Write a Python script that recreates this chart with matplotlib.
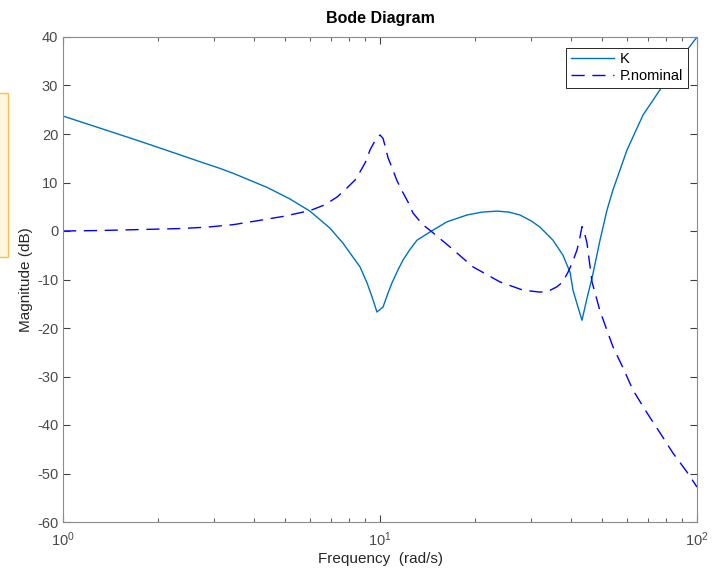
import matplotlib
matplotlib.use("Agg")
import matplotlib.pyplot as plt
from matplotlib.patches import Rectangle

plt.rcParams["font.family"] = ["Liberation Sans", "DejaVu Sans"]
plt.rcParams["axes.unicode_minus"] = False

# controller K magnitude (dB) vs frequency (rad/s)
k_freq = [1.0, 1.31, 1.75, 2.34, 2.70, 3.13, 3.44, 4.40, 5.20, 6.01, 6.95,
          7.64, 8.22, 8.65, 9.10, 9.44, 9.78, 10.22, 10.60, 10.91, 11.40,
          11.82, 12.40, 13.08, 14.38, 16.27, 18.81, 20.98, 23.39, 25.5,
          27.65, 29.96, 31.97, 35.13, 37.78, 39.76, 40.63, 42.13, 43.37,
          45.0, 46.65, 49.43, 52.0, 54.33, 60.14, 67.55, 76.41, 84.0, 93.0,
          100.0]
k_mag = [23.7, 21.2, 18.5, 15.7, 14.3, 12.9, 11.9, 9.0, 6.6, 4.1, 0.6,
         -2.5, -5.4, -7.4, -10.7, -13.6, -16.7, -15.7, -12.8, -10.7, -8.0,
         -6.0, -3.9, -1.9, -0.2, 1.9, 3.3, 3.9, 4.1, 3.9,
         3.3, 2.1, 0.8, -1.9, -5.0, -8.5, -12.2, -15.7, -18.4,
         -13.8, -9.7, -1.9, 4.3, 8.5, 16.7, 23.9, 29.1, 33.2, 37.3,
         40.0]

# nominal plant magnitude (dB)
p_freq = [1.0, 1.31, 1.75, 2.34, 2.85, 3.44, 4.09, 4.94, 6.01, 6.70, 7.32,
          7.76, 8.34, 8.65, 9.0, 9.30, 9.55, 9.76, 10.0, 10.22, 10.40,
          10.60, 10.95, 11.29, 11.75, 12.25, 12.71, 13.6, 14.59, 16.63,
          19.65, 23.90, 28.25, 31.97, 34.0, 36.17, 37.7, 39.18, 40.5, 41.83,
          42.7, 43.37, 44.0, 44.98, 46.65, 49.43, 54.33, 58.43, 62.8, 69.55,
          76.41, 84.0, 93.0, 100.0]
p_mag = [0.0, 0.1, 0.3, 0.5, 0.8, 1.3, 2.1, 3.0, 4.2, 5.4, 7.0,
         8.5, 10.5, 12.2, 14.2, 16.7, 18.1, 19.1, 19.8, 19.1, 17.3,
         15.1, 12.8, 10.5, 8.2, 6.0, 3.7, 1.4, -0.2, -3.3,
         -7.4, -10.5, -12.2, -12.6, -12.4, -11.5, -10.5, -8.5, -6.4, -3.9,
         -1.4, 0.9, 0.0, -2.5, -10.5, -16.5, -23.9, -28.2, -32.8, -37.5,
         -41.6, -45.8, -49.7, -52.8]

yticks = list(range(-60, 41, 10))

fig = plt.figure(figsize=(7.24, 5.73), dpi=100)
ax = fig.add_axes([63 / 724, 1 - 522 / 573, 634 / 724, 485 / 573])

ax.semilogx(k_freq, k_mag, color="#0072BD", lw=1.0, label="K")
ax.semilogx(p_freq, p_mag, color="#0000FF", lw=1.0, dashes=(9.5, 5.5),
            label="P.nominal")

ax.set_xlim(1, 100)
ax.set_ylim(-60, 40)
ax.set_yticks(yticks)

txt = "#4a4a4a"
for s in ax.spines.values():
    s.set_color("#8c8c8c")
    s.set_linewidth(0.8)
ax.tick_params(which="both", direction="in", top=True, right=True,
               colors="#404040", labelcolor=txt, labelsize=10.5)
ax.tick_params(which="major", length=5)
ax.tick_params(which="minor", length=3)
ax.tick_params(axis="x", pad=6)

ax.set_title("Bode Diagram", fontsize=11.5, fontweight="bold", pad=10)
ax.set_xlabel("Frequency  (rad/s)", fontsize=11, color="#262626", labelpad=2)
ax.set_ylabel("Magnitude (dB)", fontsize=11, color="#262626", labelpad=3)

leg = ax.legend(loc="upper right", bbox_to_anchor=(0.9858, 0.9773),
                fontsize=10.5, handlelength=3.0, fancybox=False,
                framealpha=1, edgecolor="#262626", borderpad=0.3,
                labelspacing=0.2, handletextpad=0.4, borderaxespad=0)
leg.get_frame().set_linewidth(0.7)

# partial tooltip box at left edge
fig.patches.append(Rectangle((-0.01, 1 - 257 / 573), 7.5 / 724 + 0.01,
                             164 / 573, transform=fig.transFigure,
                             facecolor="#fdf6df", edgecolor="#f2c34a",
                             lw=1.0, zorder=5))

fig.savefig("out.png", dpi=100, facecolor="white")
